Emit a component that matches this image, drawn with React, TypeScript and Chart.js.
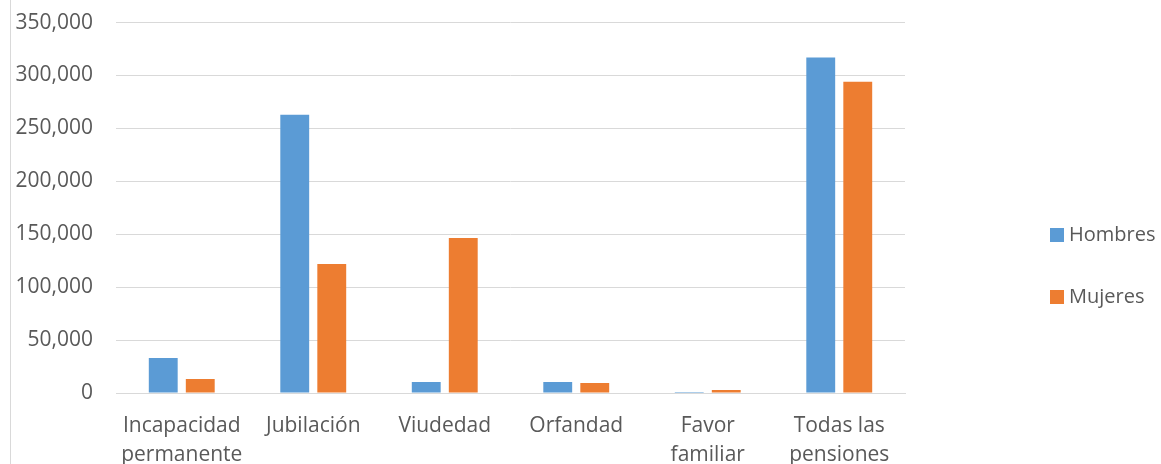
import React, { useEffect, useRef } from "react";
import { Chart, registerables } from "chart.js";

Chart.register(...registerables);

const categories: (string | string[])[] = [
  ["Incapacidad", "permanente"],
  "Jubilación",
  "Viudedad",
  "Orfandad",
  ["Favor", "familiar"],
  ["Todas las", "pensiones"],
];
const hombres = [33100, 263000, 10400, 10400, 900, 317000];
const mujeres = [13200, 122000, 146500, 9500, 2800, 294000];
const seriesNames = ["Hombres", "Mujeres"];
const seriesColors = ["#5B9BD5", "#ED7D31"];

const FONT = "'Open Sans', sans-serif";
const TEXT = "#595959";

const legendPlugin = {
  id: "sideLegend",
  afterDraw(chart: any) {
    const ctx = chart.ctx;
    ctx.save();
    chart.data.datasets.forEach((ds: any, i: number) => {
      const y = 235 + i * 62;
      ctx.fillStyle = ds.backgroundColor;
      ctx.fillRect(1050, y - 7, 14, 14);
      ctx.fillStyle = TEXT;
      ctx.font = `20px ${FONT}`;
      ctx.textBaseline = "middle";
      ctx.textAlign = "left";
      ctx.fillText(ds.label, 1069, y);
    });
    ctx.restore();
  },
};

export default function App() {
  const ref = useRef<HTMLCanvasElement | null>(null);
  useEffect(() => {
    document.body.style.margin = "0";
    const chart = new Chart(ref.current!, {
      type: "bar",
      data: {
        labels: categories,
        datasets: [
          { label: seriesNames[0], data: hombres, backgroundColor: seriesColors[0] },
          { label: seriesNames[1], data: mujeres, backgroundColor: seriesColors[1] },
        ],
      },
      options: {
        animation: false,
        responsive: false,
        maintainAspectRatio: false,
        layout: { padding: { left: 0, right: 256, top: 0, bottom: 0 } },
        datasets: { bar: { categoryPercentage: 0.563, barPercentage: 0.78 } } as any,
        plugins: { legend: { display: false }, tooltip: { enabled: false } },
        scales: {
          x: {
            grid: { display: false, drawTicks: false },
            border: { color: "#D9D9D9", width: 1 },
            ticks: {
              color: TEXT,
              font: { family: FONT, size: 21, lineHeight: 1.4 },
              padding: 18,
              maxRotation: 0,
              autoSkip: false,
            },
            afterFit: (s: any) => {
              s.height = 71;
            },
          },
          y: {
            min: 0,
            max: 350000,
            grid: {
              color: "#D9D9D9",
              drawTicks: true,
              tickLength: 13,
              tickColor: "rgba(0,0,0,0)",
            },
            border: { display: false },
            ticks: {
              stepSize: 50000,
              color: TEXT,
              font: { family: FONT, size: 21 },
              padding: 10,
              callback: (v: any) => Number(v).toLocaleString("en-US"),
            },
            afterFit: (s: any) => {
              s.width = 116;
            },
          },
        },
      },
      plugins: [legendPlugin],
    });
    return () => chart.destroy();
  }, []);
  return (
    <div style={{ position: "relative", width: 1161, height: 464, overflow: "hidden" }}>
      <div
        style={{
          position: "absolute",
          left: 10,
          top: 0,
          width: 1,
          height: 464,
          background: "#D9D9D9",
        }}
      />
      <canvas ref={ref} width={1161} height={464} style={{ display: "block" }} />
    </div>
  );
}
